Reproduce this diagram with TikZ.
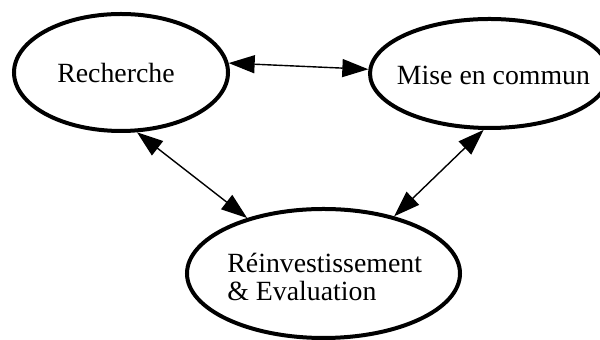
\documentclass[tikz,border=0pt]{standalone}
\usepackage{fontspec}
\setmainfont{Liberation Serif}
\usetikzlibrary{shapes.geometric,arrows.meta}
\begin{document}
\begin{tikzpicture}[x=0.5pt,y=-0.5pt,
  bubble/.style={draw,ellipse,line width=2pt,inner sep=0pt,fill=white},
  lbl/.style={font=\fontsize{13.9pt}{14pt}\selectfont,inner sep=0pt},
  link/.style={line width=0.7pt,{Triangle[length=13pt,width=9pt]}-{Triangle[length=13pt,width=9pt]}}]
\useasboundingbox (0,0) rectangle (600,340);
\fill[white] (0,0) rectangle (600,340);
\node[bubble,minimum width=107pt,minimum height=58.5pt] (rech) at (121,72.5) {};
\node[bubble,minimum width=119.5pt,minimum height=54.5pt] (mise) at (489.5,73.5) {};
\node[bubble,minimum width=136.5pt,minimum height=64.5pt] (reinv) at (323.5,273.5) {};
\node[lbl,anchor=base] (t1) at (116,83) {Recherche};
\node[lbl,anchor=base] (t2) at (493.5,85) {Mise en commun};
\node[lbl,anchor=base west] (t3) at (227,273) {Réinvestissement};
\node[lbl,anchor=base west] (t4) at (227,301) {\& Evaluation};
\draw[link] (rech.5.5) -- (mise.178.8);
\draw[link] (rech.-75.2) -- (reinv.144.3);
\draw[link] (mise.-96.3) -- (reinv.39.1);
\end{tikzpicture}
\end{document}
